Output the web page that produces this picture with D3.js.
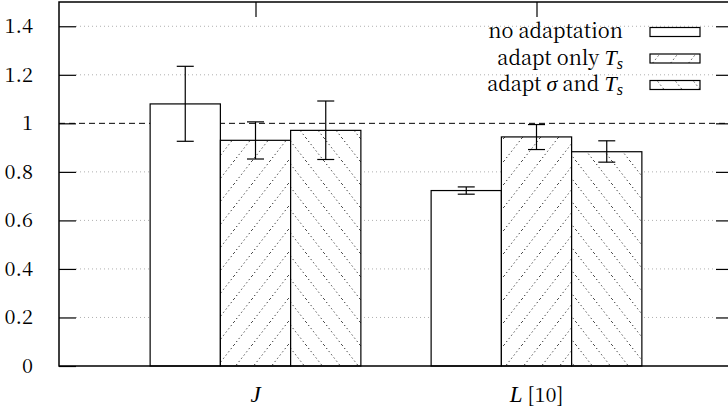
<!DOCTYPE html>
<html><head><meta charset="utf-8">
<script src="https://cdn.jsdelivr.net/npm/d3@7"></script>
<style>body{margin:0;background:#fff}svg{display:block}</style>
</head><body><svg id="c" width="728" height="411"></svg>
<script>
const categories = ["J", "L [10]"];
const seriesNames = ["no adaptation", "adapt only Ts", "adapt σ and Ts"];
const values = [[1.08, 0.723], [0.930, 0.944], [0.971, 0.883]];
const errLow = [[0.926, 0.708], [0.853, 0.892], [0.851, 0.840]];
const errHigh = [[1.235, 0.738], [1.006, 0.995], [1.092, 0.928]];
const yTicks = [0, 0.2, 0.4, 0.6, 0.8, 1, 1.2, 1.4];

const svg = d3.select("#c");
const FONT = '"Noto Serif CJK SC", "Liberation Serif", serif';
const IFONT = '"Liberation Serif", serif';
const L = 59, R = 733, T = 2, B = 366;
const x = d3.scaleLinear().domain([-0.6993, 1.6993]).range([L, R]);
const y = d3.scaleLinear().domain([0, 1.5]).range([B, T]);
const bw = 0.25;
const FS = 20;

const defs = svg.append("defs");
function hatch(id, dir) {
  const w = 18, h = 23;
  const p = defs.append("pattern").attr("id", id).attr("patternUnits", "userSpaceOnUse")
    .attr("width", w).attr("height", h);
  p.append("rect").attr("width", w).attr("height", h).attr("fill", "#fff");
  const seg = dir > 0 ? [0, h, w, 0] : [0, 0, w, h];
  p.append("line").attr("x1", seg[0]).attr("y1", seg[1]).attr("x2", seg[2]).attr("y2", seg[3])
    .attr("stroke", "#000").attr("stroke-width", 1).attr("stroke-dasharray", "1,3");
}
hatch("h1", 1);
hatch("h2", -1);
const fills = ["#fff", "url(#h1)", "url(#h2)"];

// grid
svg.append("g").selectAll("line").data(yTicks.filter(d => d > 0 && d !== 1)).join("line")
  .attr("x1", L + 17).attr("x2", R - 17).attr("y1", d => y(d)).attr("y2", d => y(d))
  .attr("stroke", "#b0b0b0").attr("stroke-width", 1).attr("stroke-dasharray", "1,3");

// y axis ticks (left & right, inward)
const yAxisL = d3.axisRight(y).tickValues(yTicks).tickSize(17).tickFormat("");
const gL = svg.append("g").attr("transform", `translate(${L},0)`).call(yAxisL);
gL.select(".domain").remove();
const yAxisR = d3.axisLeft(y).tickValues(yTicks.filter(d => d > 0)).tickSize(17).tickFormat("");
const gR = svg.append("g").attr("transform", `translate(${R},0)`).call(yAxisR);
gR.select(".domain").remove();
// y tick labels
svg.append("g").selectAll("text").data(yTicks).join("text")
  .style("font-family", FONT).style("font-size", FS + "px")
  .attr("x", 33).attr("y", d => y(d)).attr("dy", "0.35em").attr("text-anchor", "end")
  .text(d => d3.format("~g")(d));

// x ticks top & bottom
const xAxisT = d3.axisBottom(x).tickValues([0, 1]).tickSize(15).tickFormat("");
const gT = svg.append("g").attr("transform", `translate(0,${T})`).call(xAxisT);
gT.select(".domain").remove();
const xAxisB = d3.axisTop(x).tickValues([0, 1]).tickSize(15).tickFormat("");
const gB = svg.append("g").attr("transform", `translate(0,${B})`).call(xAxisB);
gB.select(".domain").remove();
svg.selectAll(".tick line").attr("stroke", "#000").attr("stroke-width", 1.2);

// reference line at 1
svg.append("line").attr("x1", L).attr("x2", R).attr("y1", y(1)).attr("y2", y(1))
  .attr("stroke", "#000").attr("stroke-width", 1).attr("stroke-dasharray", "6,4");

// bars
seriesNames.forEach((s, si) => {
  const g = svg.append("g");
  categories.forEach((c, ci) => {
    const cx = ci + (si - 1) * bw;
    g.append("rect").attr("x", x(cx - bw / 2)).attr("width", x(cx + bw / 2) - x(cx - bw / 2))
      .attr("y", y(values[si][ci])).attr("height", y(0) - y(values[si][ci]))
      .attr("fill", fills[si]).attr("stroke", "#000").attr("stroke-width", 1.2);
  });
});
// error bars
seriesNames.forEach((s, si) => {
  categories.forEach((c, ci) => {
    const px = x(ci + (si - 1) * bw);
    const g = svg.append("g").attr("stroke", "#000").attr("stroke-width", 1.2);
    g.append("line").attr("x1", px).attr("x2", px).attr("y1", y(errLow[si][ci])).attr("y2", y(errHigh[si][ci]));
    [errLow[si][ci], errHigh[si][ci]].forEach(v => g.append("line")
      .attr("x1", px - 8.5).attr("x2", px + 8.5).attr("y1", y(v)).attr("y2", y(v)));
  });
});

// frame
svg.append("path").attr("d", `M${R},${T}H${L}V${B}H${R}`).attr("fill", "none")
  .attr("stroke", "#000").attr("stroke-width", 1.5);

function ital(sel, txt, size) {
  return sel.append("tspan").style("font-family", IFONT).style("font-style", "italic")
    .style("font-size", (size || FS + 1) + "px").text(txt);
}

// x labels
const t0 = svg.append("text").attr("x", x(0)).attr("y", 402).attr("text-anchor", "middle")
  .style("font-family", FONT).style("font-size", FS + "px");
ital(t0, "J", 23);
const t1 = svg.append("text").attr("x", x(1)).attr("y", 402).attr("text-anchor", "middle")
  .style("font-family", FONT).style("font-size", FS + "px");
ital(t1, "L", 23);
t1.append("tspan").text(" [10]");

// legend
const rows = [32, 58.5, 85];
seriesNames.forEach((s, i) => {
  const t = svg.append("text").attr("x", 623).attr("y", rows[i] + 6).attr("text-anchor", "end")
    .style("font-family", FONT).style("font-size", FS + "px");
  if (i === 0) t.text("no adaptation");
  else {
    if (i === 1) t.append("tspan").text("adapt only ");
    else {
      t.append("tspan").text("adapt ");
      ital(t, "σ", 22);
      t.append("tspan").text(" and ");
    }
    ital(t, "T", 22);
    ital(t, "s", 16).attr("dy", 4);
  }
  svg.append("rect").attr("x", 650).attr("y", rows[i] - 4.5).attr("width", 50).attr("height", 9)
    .attr("fill", fills[i]).attr("stroke", "#000").attr("stroke-width", 1.2);
});
</script></body></html>
